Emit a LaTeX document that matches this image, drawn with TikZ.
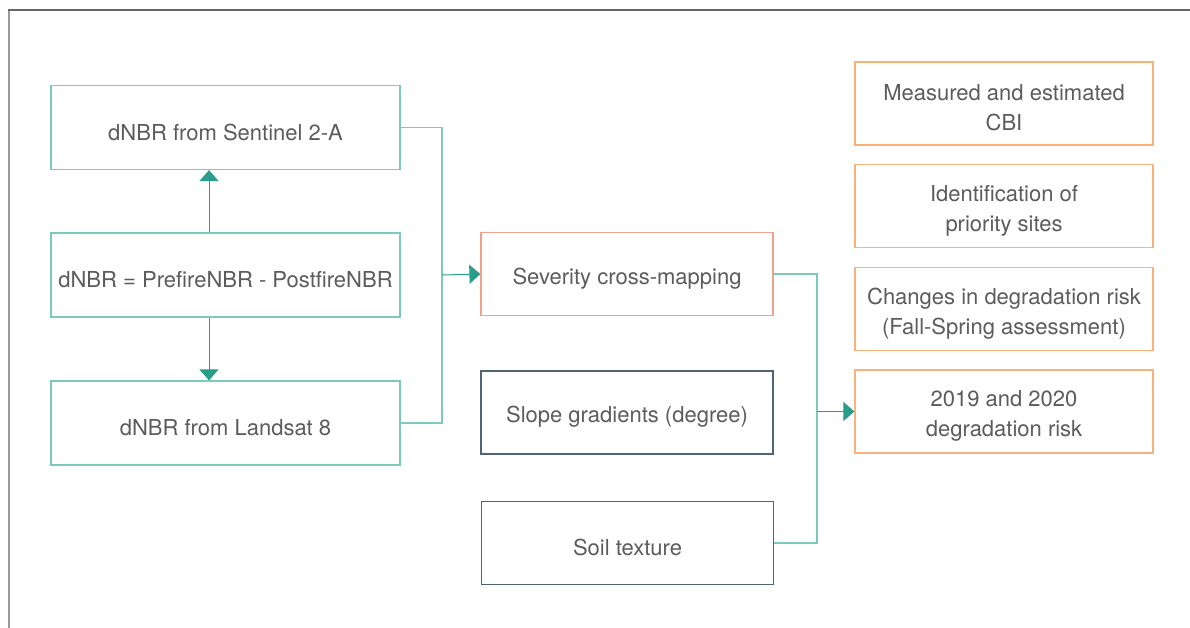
\documentclass[tikz,border=0pt]{standalone}
\usepackage{fontspec}
\setmainfont{TeX Gyre Heros}
\usetikzlibrary{arrows.meta,positioning,calc}
\definecolor{tealbox}{HTML}{7CCABC}
\definecolor{tealline}{HTML}{2A9D8A}
\definecolor{salmon}{HTML}{F2A08E}
\definecolor{orangebox}{HTML}{F8B27C}
\definecolor{slatebox}{HTML}{4E6575}
\definecolor{txt}{HTML}{5C5C5C}
\tikzset{
  lbl/.style={text=txt, align=center, inner sep=0pt, yshift=-4.5pt,
    font=\fontsize{22}{30}\selectfont},
  caption/.style={label={[lbl]center:{#1}}},
  box/.style={draw, line width=1.2pt, fill=white, inner sep=0pt},
  greenbox/.style={box, draw=tealbox, minimum width=349pt, minimum height=84pt},
  midbox/.style={box, minimum width=292pt, minimum height=83pt},
  outbox/.style={box, draw=orangebox, minimum width=298pt, minimum height=83pt},
  link/.style={draw=tealbox, line width=1.2pt},
  arr/.style={draw=tealline, line width=1pt, -{Triangle[length=11pt,width=19pt]}},
}
\begin{document}
\begin{tikzpicture}[x=1pt,y=-1pt]
\useasboundingbox (0,0) rectangle (1190,628);
% outer frame
\draw[line width=1.5pt, draw=black!40] (9,628) -- (9,10);
\draw[line width=1.5pt, draw=black!60] (8.25,10) -- (1190,10);

% input boxes
\node[greenbox, caption={dNBR from Sentinel 2-A}] (s2a) at (225.5,127.5) {};
\node[greenbox, caption={dNBR = PrefireNBR - PostfireNBR}] (eq) at (225.5,275) {};
\node[greenbox, caption={dNBR from Landsat 8}] (l8) at (225.5,423) {};

% middle column
\node[midbox, draw=salmon, caption={Severity cross-mapping}] (sev) at (627,274) {};
\node[midbox, draw=slatebox, caption={Slope gradients (degree)}] (slope) at (627,412.5) {};
\node[midbox, draw=slatebox, caption={Soil texture}] (soil) at (627.5,543) {};

% outputs
\node[outbox, caption={Measured and estimated\\CBI}] (cbi) at (1004,103.5) {};
\node[outbox, caption={Identification of\\priority sites}] (prio) at (1004,206) {};
\node[outbox, caption={Changes in degradation risk\\(Fall-Spring assessment)}] (chg) at (1004,309) {};
\node[outbox, caption={2019 and 2020\\degradation risk}] (risk) at (1004,411.5) {};

% dNBR derivation arrows
\coordinate (ax) at (209,0);
\draw[arr] (eq.north -| ax) -- (s2a.south -| ax);
\draw[arr] (eq.south -| ax) -- (l8.north -| ax);

% merge of the two dNBR products into severity
\coordinate (jl) at (442,275);
\draw[link] (s2a.east) -- (s2a.east -| jl) -- (l8.east -| jl) -- (l8.east);
\draw[arr] (jl) -- (sev.west);

% merge of severity and soil into degradation risk
\coordinate (jr) at (817,412.5);
\draw[link] (sev.east) -- (sev.east -| jr) -- (soil.east -| jr) -- (soil.east);
\draw[arr] (jr |- risk.west) -- (risk.west);
\end{tikzpicture}
\end{document}
